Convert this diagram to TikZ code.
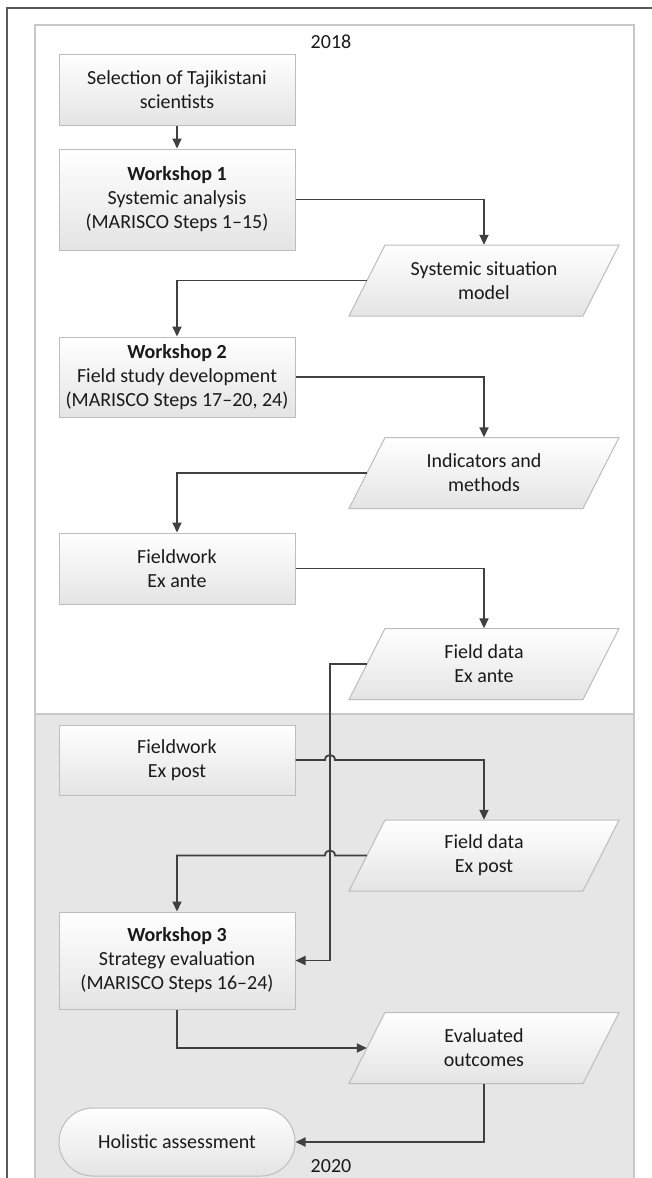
\documentclass[tikz,border=0pt]{standalone}
\usepackage{fontspec}
\setmainfont{Carlito}
\usetikzlibrary{arrows.meta,calc}
\definecolor{linec}{HTML}{404040}
\definecolor{outerc}{HTML}{5A5A5A}
\definecolor{innerc}{HTML}{C8C8C8}
\definecolor{greyreg}{HTML}{E6E6E6}
\definecolor{boxborder}{HTML}{BDBDBD}
\definecolor{boxbot}{HTML}{E4E4E4}
\definecolor{textc}{HTML}{1A1A1A}
\tikzset{
  procbox/.style={draw=boxborder, line width=1pt, top color=white, bottom color=boxbot,
    minimum width=236pt, inner sep=0pt, align=center, text=textc},
  paratext/.style={minimum width=234pt, minimum height=71pt, inner sep=0pt, align=center, text=textc},
  parashade/.style={draw=boxborder, line width=1pt, top color=white, bottom color=boxbot},
  conn/.style={draw=linec, line width=1.8pt},
  arr/.style={conn, -{Triangle[length=10pt,width=9pt]}},
  yearlabel/.style={text=textc, inner sep=0pt}
}
\newcommand\datanode[4]{%
  \shadedraw[parashade, shift={(#2,#3)}] (-99,-35.5) -- (135,-35.5) -- (99,35.5) -- (-135,35.5) -- cycle;
  \node[paratext] (#1) at (#2,#3) {#4};}
\begin{document}
\begin{tikzpicture}[x=1pt,y=-1pt, font=\fontsize{20}{24}\selectfont]
\useasboundingbox (0,0) rectangle (652,1178);
\fill[white] (0,0) rectangle (652,1178);
% frames
\draw[outerc, line width=1.5pt] (7,1200) -- (7,8) -- (680,8);
\fill[greyreg] (35,714) rectangle (634,1200);
\draw[innerc, line width=1.5pt] (35,714) -- (634,714);
\draw[innerc, line width=1.5pt] (35,1200) -- (35,25) -- (634,25) -- (634,1200);
\node[yearlabel] (y2018) at (331,42) {2018};
\node[yearlabel] (y2020) at (331,1166) {2020};
% process boxes
\node[procbox, minimum height=71pt] (sel) at (177,89.5) {Selection of Tajikistani\\scientists};
\node[procbox, minimum height=101pt] (w1) at (177,199.5) {\textbf{Workshop 1}\\Systemic analysis\\(MARISCO Steps 1--15)};
\node[procbox, minimum height=80pt] (w2) at (177,377) {\textbf{Workshop 2}\\Field study development\\(MARISCO Steps 17--20, 24)};
\node[procbox, minimum height=71pt] (fea) at (177,568.5) {Fieldwork\\Ex ante};
\node[procbox, minimum height=70pt] (fep) at (177,760) {Fieldwork\\Ex post};
\node[procbox, minimum height=97pt] (w3) at (177,960.5) {\textbf{Workshop 3}\\Strategy evaluation\\(MARISCO Steps 16--24)};
\node[procbox, minimum height=68pt, rounded corners=33.9pt] (hol) at (177,1142) {Holistic assessment};
% data nodes
\datanode{sm}{484}{280.5}{Systemic situation\\model}
\datanode{im}{484}{473}{Indicators and\\methods}
\datanode{fda}{484}{664}{Field data\\Ex ante}
\datanode{fdp}{484}{855.5}{Field data\\Ex post}
\datanode{ev}{484}{1048}{Evaluated\\outcomes}
% connectors
\coordinate (bus) at (330,664);
\draw[arr] (sel) -- (w1);
\draw[arr] (w1.east) -| (sm.north);
\draw[arr] (sm.west) -| (w2.north);
\draw[arr] (w2.east) -| (im.north);
\draw[arr] (im.west) -| (fea.north);
\draw[arr] (fea.east) -| (fda.north);
\draw[arr] (fda.west) -- (bus) |- (w3.east);
\draw[arr] (fep.east) -- ($(bus|-fep.east)+(-5,0)$) .. controls +(0,-6.67) and +(0,-6.67) .. ($(bus|-fep.east)+(5,0)$) -| (fdp.north);
\draw[arr] (fdp.west) -- ($(bus|-fdp.west)+(5,0)$) .. controls +(0,-6.67) and +(0,-6.67) .. ($(bus|-fdp.west)+(-5,0)$) -| (w3.north);
\draw[arr] (w3.south) |- (ev.west);
\draw[arr] (ev.south) |- (hol.east);
\end{tikzpicture}
\end{document}
